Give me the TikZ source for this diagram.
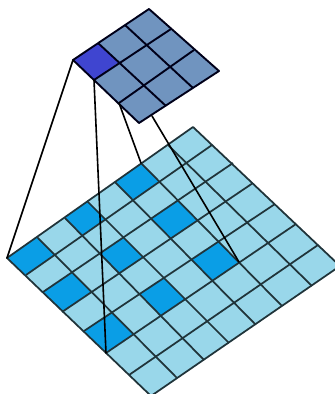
\documentclass[tikz,border=0pt]{standalone}
\usetikzlibrary{calc}
\definecolor{lightcell}{HTML}{99D7EA}
\definecolor{darkcell}{HTML}{0A9EE6}
\definecolor{topcell}{HTML}{7094BF}
\definecolor{topdark}{HTML}{3F45D0}
\definecolor{gridline}{HTML}{20343A}
\tikzset{
  biggrid/.style={draw=gridline,line width=1.75pt,line join=round},
  smallgrid/.style={draw=black!90!blue,line width=1.9pt,line join=round},
  link/.style={draw=black,line width=1.6pt,line cap=round},
}
\begin{document}
\begin{tikzpicture}[x=1pt,y=-1pt]
\useasboundingbox (0,0) rectangle (335,394);
\clip (0,0) rectangle (335,394);
% big grid edge points
\foreach \n/\p in {0/{7,258},1/{37,237},2/{65,218},3/{87,201},4/{115,182},5/{141,163},6/{168,145},7/{193,127}}
  \coordinate (A\n) at (\p);
\foreach \n/\p in {0/{7,258},1/{26,275},2/{43,292},3/{62,312},4/{84,331},5/{106,353},6/{129,375},7/{151,396}}
  \coordinate (B\n) at (\p);
\foreach \n/\p in {0/{193,127},1/{212,145},2/{233,163},3/{253,183},4/{275,204},5/{296,224},6/{318,245},7/{340,266}}
  \coordinate (C\n) at (\p);
\foreach \n/\p in {0/{151,396},1/{177,378},2/{204,360},3/{229,343},4/{255,324},5/{282,306},6/{312,286},7/{340,266}}
  \coordinate (D\n) at (\p);
\fill[lightcell] (A0) -- (A7) -- (C7) -- (B7) -- cycle;
% dark cells, corners found as crossings of the grid lines
\foreach \p in {0,2,4}{
  \foreach \q in {0,2,4}{
    \pgfmathtruncatemacro{\pp}{\p+1}
    \pgfmathtruncatemacro{\qq}{\q+1}
    \fill[darkcell]
      (intersection cs: first line={(A\q)--(D\q)}, second line={(B\p)--(C\p)}) --
      (intersection cs: first line={(A\qq)--(D\qq)}, second line={(B\p)--(C\p)}) --
      (intersection cs: first line={(A\qq)--(D\qq)}, second line={(B\pp)--(C\pp)}) --
      (intersection cs: first line={(A\q)--(D\q)}, second line={(B\pp)--(C\pp)}) -- cycle;
  }
}
\foreach \i in {1,...,6} {
  \draw[biggrid] (A\i) -- (D\i);
  \draw[biggrid] (B\i) -- (C\i);
}
\draw[biggrid] (A0) -- (A7) -- (C7) -- (B7) -- cycle;
% small grid
\coordinate (tl) at (73,60); \coordinate (tt) at (149,9);
\coordinate (tr) at (219,71); \coordinate (tb) at (139,123);
\coordinate (a1) at (98,43); \coordinate (a2) at (125,25);
\coordinate (b1) at (94,80); \coordinate (b2) at (119,103);
\coordinate (c1) at (171,29); \coordinate (c2) at (194,50);
\coordinate (d1) at (166,106); \coordinate (d2) at (193,88);
\coordinate (m) at (119,62);
\coordinate (l4) at (152,116);
\fill[topcell] (tl) -- (tt) -- (tr) -- (tb) -- cycle;
\fill[topdark] (tl) -- (a1) -- (m) -- (b1) -- cycle;
\draw[smallgrid] (a1) -- (d1);
\draw[smallgrid] (a2) -- (d2);
\draw[smallgrid] (b1) -- (c1);
\draw[smallgrid] (b2) -- (c2);
\draw[smallgrid] (tl) -- (tt) -- (tr) -- (tb) -- cycle;
% connectors
\draw[link] (tl) -- (A0);
\draw[link] (b1) -- (B5);
\draw[link] (b2) -- (A5);
\coordinate (e) at (239,262);
\draw[link] (l4) -- (e);
\end{tikzpicture}
\end{document}
